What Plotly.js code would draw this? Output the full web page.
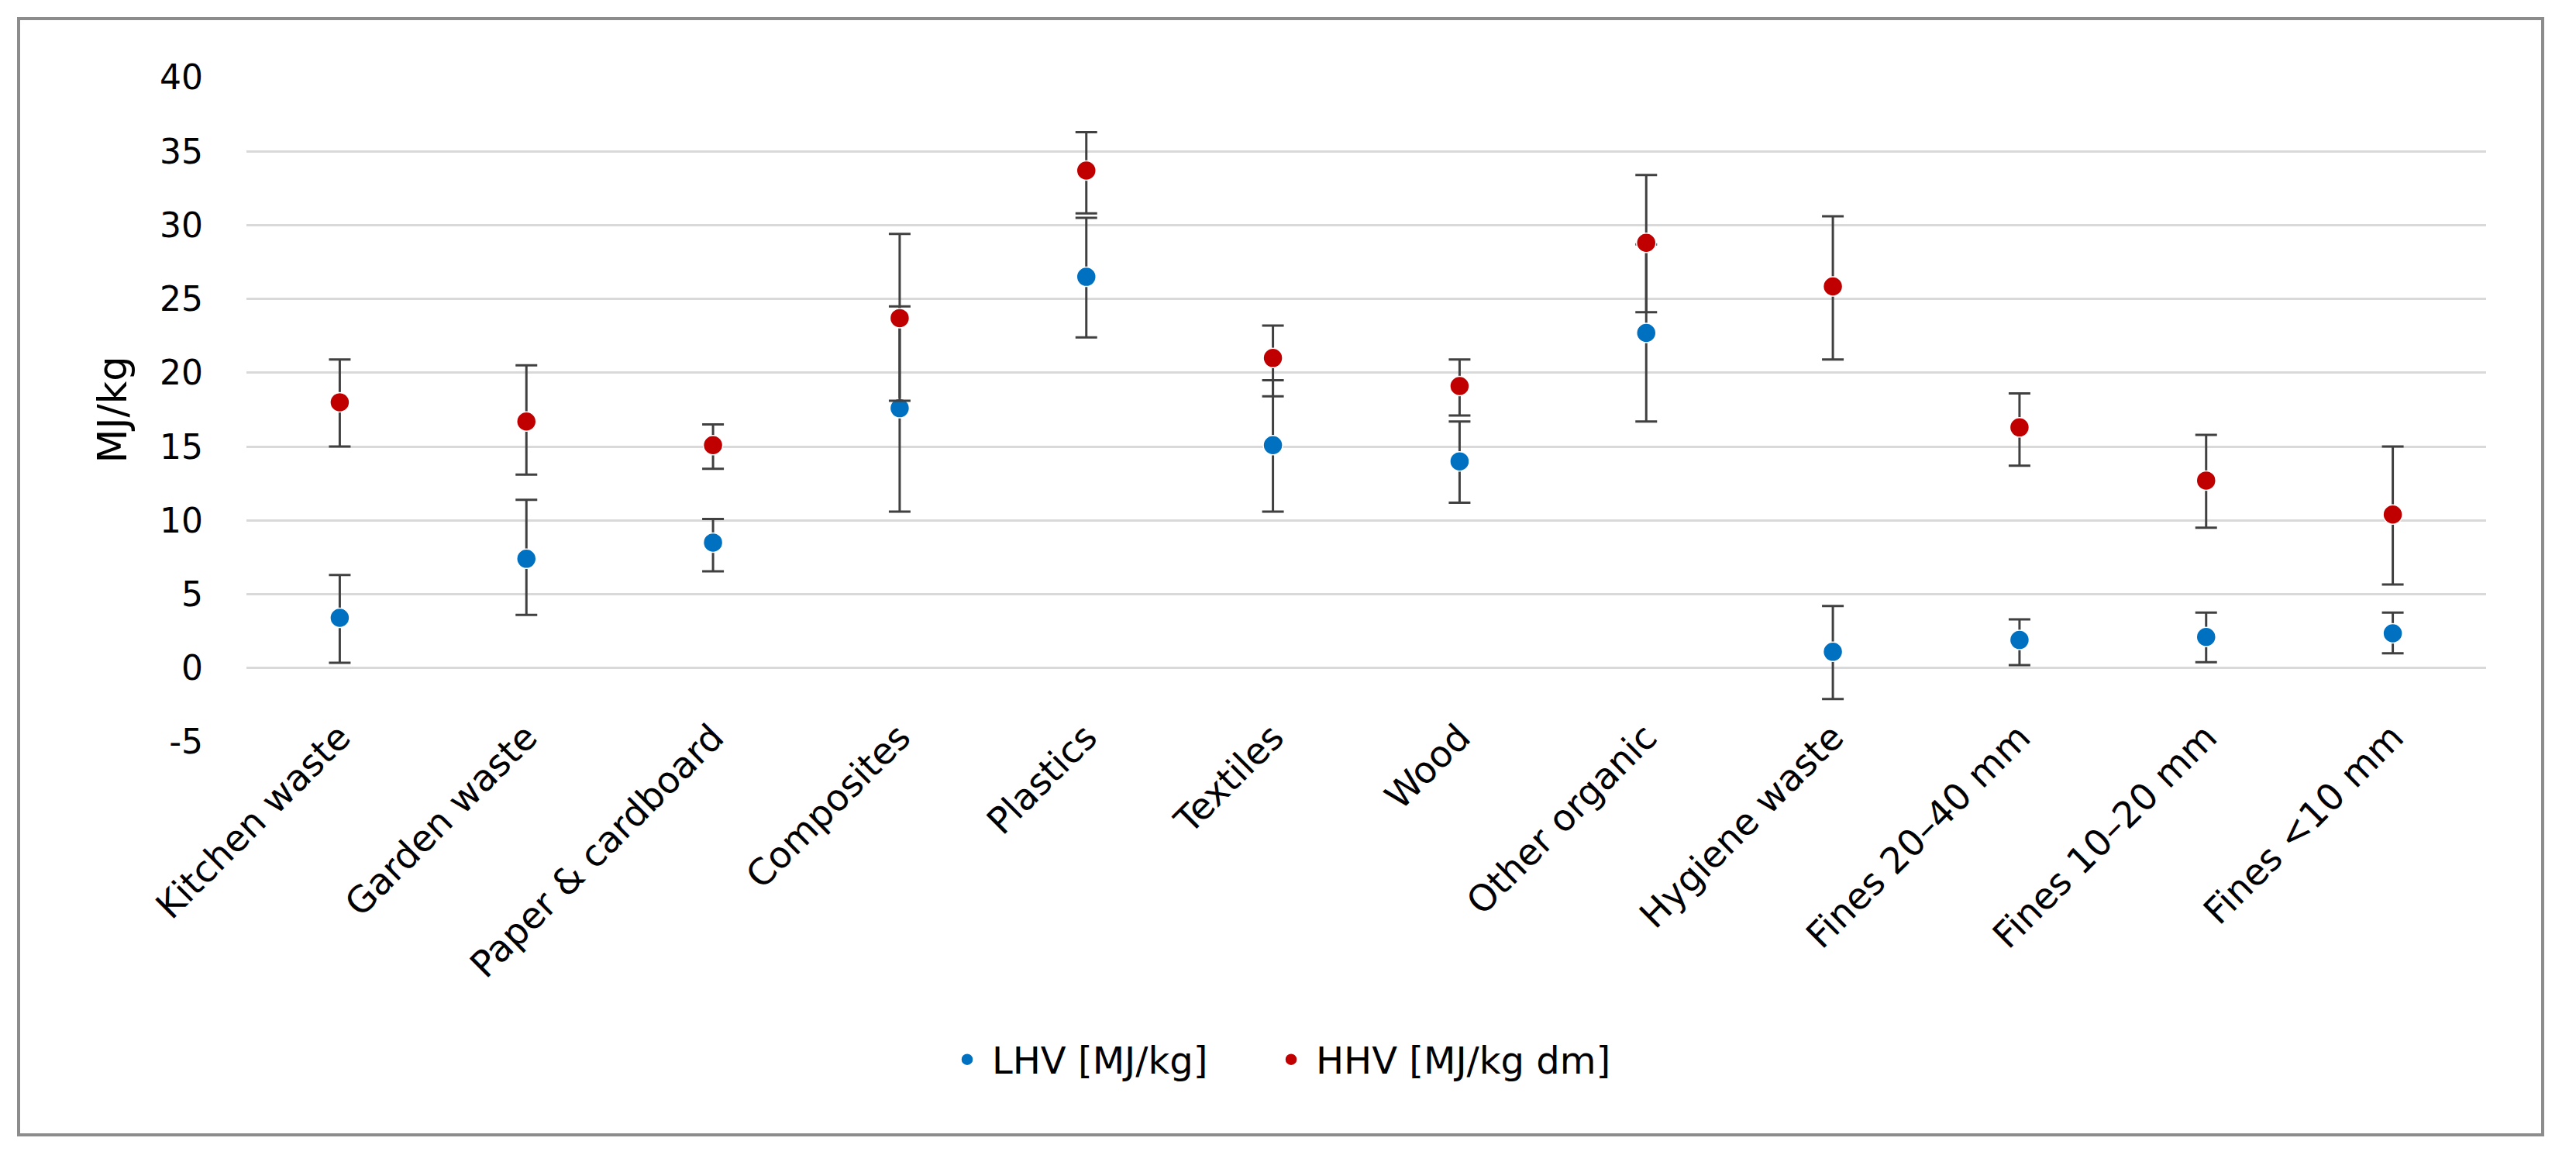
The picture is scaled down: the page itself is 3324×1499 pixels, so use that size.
<!DOCTYPE html>
<html>
<head>
<meta charset="utf-8">
<script src="https://cdn.plot.ly/plotly-3.0.1.min.js"></script>
<style>
html,body{margin:0;padding:0;background:#fff;}
#chart{width:3324px;height:1499px;}
</style>
</head>
<body>
<div id="chart"></div>
<script>
const categories = ["Kitchen waste","Garden waste","Paper & cardboard","Composites","Plastics","Textiles","Wood","Other organic","Hygiene waste","Fines 20–40 mm","Fines 10–20 mm","Fines <10 mm"];

const lhvValues = [3.4, 7.4, 8.5, 17.6, 26.5, 15.1, 14.0, 22.7, 1.1, 1.9, 2.1, 2.35];
const lhvErrPlus = [2.9, 4.0, 1.6, 6.9, 4.0, 4.4, 2.7, 6.0, 3.1, 1.4, 1.65, 1.4];
const lhvErrMinus = [3.05, 3.8, 1.95, 7.0, 4.1, 4.5, 2.8, 6.0, 3.2, 1.7, 1.7, 1.35];

const hhvValues = [18.0, 16.7, 15.1, 23.7, 33.7, 21.0, 19.1, 28.8, 25.85, 16.3, 12.7, 10.4];
const hhvErrPlus = [2.9, 3.8, 1.4, 5.7, 2.6, 2.2, 1.8, 4.6, 4.75, 2.3, 3.1, 4.6];
const hhvErrMinus = [3.0, 3.6, 1.6, 5.6, 2.9, 2.6, 2.0, 4.7, 4.95, 2.6, 3.2, 4.74];

const yTicks = [-5, 0, 5, 10, 15, 20, 25, 30, 35, 40];

const FONT = "DejaVu Sans, Open Sans, sans-serif";
const errStyle = {color: "#404040", thickness: 3, width: 14};

const traces = [
  {
    type: "scatter", mode: "markers", name: "LHV [MJ/kg]", legend: "legend",
    x: categories, y: lhvValues,
    marker: {color: "#0070C0", size: 25, line: {color: "#ffffff", width: 1.5}},
    error_y: Object.assign({type: "data", symmetric: false, array: lhvErrPlus, arrayminus: lhvErrMinus}, errStyle)
  },
  {
    type: "scatter", mode: "markers", name: "HHV [MJ/kg dm]", legend: "legend2",
    x: categories, y: hhvValues,
    marker: {color: "#C00000", size: 25, line: {color: "#ffffff", width: 1.5}},
    error_y: Object.assign({type: "data", symmetric: false, array: hhvErrPlus, arrayminus: hhvErrMinus}, errStyle)
  }
];

const L = 318, R = 3208, T = 100, B = 957;
const W = R - L, H = B - T;
function px(x){ return (x - L) / W; }
function py(y){ return (B - y) / H; }

const legendBase = {
  orientation: "h", yanchor: "middle", xanchor: "left", y: py(1367),
  font: {family: FONT, size: 48, color: "#000000"},
  itemwidth: 54, tracegroupgap: 0, bgcolor: "rgba(0,0,0,0)", borderwidth: 0
};

const layout = {
  width: 3324, height: 1499,
  paper_bgcolor: "#ffffff", plot_bgcolor: "#ffffff",
  margin: {l: L, r: 3324 - R, t: T, b: 1499 - B, pad: 0},
  font: {family: FONT, size: 44, color: "#000000"},
  showlegend: true,
  legend: Object.assign({}, legendBase, {x: px(1216)}),
  legend2: Object.assign({}, legendBase, {x: px(1634)}),
  xaxis: {
    type: "category", categoryorder: "array", categoryarray: categories,
    range: [-0.5, 11.5], showgrid: false, zeroline: false, showline: false,
    ticks: "", tickangle: -45, ticklabelstandoff: -44,
    tickfont: {family: FONT, size: 47, color: "#000000"}, automargin: false
  },
  yaxis: {
    range: [-5, 40], tickvals: yTicks, ticktext: yTicks.map(String),
    showgrid: true, gridcolor: "#d9d9d9", gridwidth: 3,
    zeroline: false, showline: false, ticks: "", ticklabelstandoff: 55,
    tickfont: {family: FONT, size: 44, color: "#000000"},
    title: {text: "MJ/kg", font: {family: FONT, size: 51, color: "#000000"}, standoff: 26},
    automargin: false
  },
  shapes: [
    {type: "rect", xref: "paper", yref: "paper",
     x0: px(24), x1: px(3281), y0: py(1464), y1: py(24),
     line: {color: "#8c8c8c", width: 4}, fillcolor: "rgba(0,0,0,0)", layer: "below"}
  ]
};

Plotly.newPlot("chart", traces, layout, {displayModeBar: false, staticPlot: true});
</script>
</body>
</html>
